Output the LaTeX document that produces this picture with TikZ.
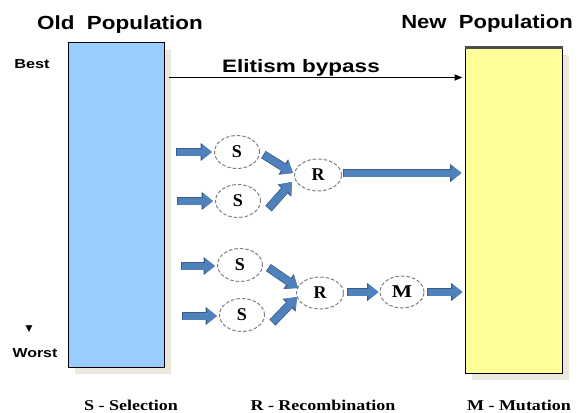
\documentclass[tikz,border=0pt]{standalone}
\usepackage{fontspec}
\setmainfont{Liberation Serif}
\newfontfamily\arialf{Liberation Sans}
\newfontfamily\dejavuf{DejaVu Sans}
\usetikzlibrary{arrows.meta,calc,shadows,shapes.geometric}
\definecolor{oldfill}{HTML}{99CCFF}
\definecolor{newfill}{HTML}{FFFF99}
\definecolor{shadowc}{HTML}{EAE8DC}
\definecolor{blkfill}{HTML}{4F81BD}
\definecolor{blkline}{HTML}{385D8A}
\definecolor{dashc}{HTML}{7F7F7F}
\begin{document}
\begin{tikzpicture}[x=1pt,y=-1pt,
  pop/.style={draw=black, line width=1pt, inner sep=0,
    drop shadow={shadow xshift=7pt, shadow yshift=-7pt, fill=shadowc, opacity=1}},
  op/.style={ellipse, draw=dashc, dash pattern=on 3.5pt off 2pt, line width=1pt,
    minimum width=45, minimum height=33, inner sep=0,
    font=\bfseries\fontsize{18}{18}\selectfont},
  blk/.style={line width=7pt, draw=blkfill, -{Triangle[length=10pt,width=15pt]},
    preaction={draw=blkline, line width=8.6pt, shorten <=-0.8pt,
      -{Triangle[length=11.5pt,width=17.5pt]}}},
  elit/.style={draw=black, line width=1.6pt, -{Triangle[length=8pt,width=6pt]}},
  hd/.style={anchor=base, inner sep=0, font=\arialf\bfseries\fontsize{19}{19}\selectfont},
  side/.style={anchor=base, inner sep=0, font=\arialf\bfseries\fontsize{13}{13}\selectfont},
  legend/.style={anchor=base, inner sep=0, font=\bfseries\fontsize{15}{15}\selectfont}
]
\useasboundingbox (0,0) rectangle (583,412);

% populations
\node[pop, fill=oldfill, minimum width=96, minimum height=324] (old) at (116,205) {};
\node[pop, fill=newfill, minimum width=97, minimum height=325] (new) at (513.5,210.5) {};
\draw[line width=2.5pt, draw=black!70] (new.north west) -- (new.north east);

% headings
\node[hd] (oldlbl) at (120,30) {\scalebox{1.18}[1]{Old\ \ Population}};
\node[hd] (newlbl) at (487,29) {\scalebox{1.16}[1]{New\ \ Population}};
\node[side] (best) at (32,68) {\scalebox{1.25}[1]{Best}};
\node[inner sep=0, font=\dejavuf\fontsize{9}{9}\selectfont] (tri) at (29,329) {▼};
\node[side] (worst) at (35,357) {\scalebox{1.22}[1]{Worst}};

% elitism bypass
\node[anchor=base, inner sep=0, font=\arialf\bfseries\fontsize{18}{18}\selectfont] (elitlbl) at (301,73) {\scalebox{1.25}[1]{Elitism bypass}};
\draw[elit] ($(old.north east)+(4,35)$) -- ($(new.north west)+(-2,30)$);

% operators
\node[op] (s1) at (237,152) {S};
\node[op] (s2) at (238,201) {S};
\node[op, minimum width=47, minimum height=32] (r1) at (318,175) {R};
\node[op] (s3) at (240,265) {S};
\node[op] (s4) at (242,315) {S};
\node[op, minimum width=47, minimum height=32] (r2) at (320,293) {R};
\node[op, minimum width=44, minimum height=32] (m) at (402,292) {\scalebox{1.2}[1]{M}};

% free ends
\coordinate (in1) at (177,152);
\coordinate (in2) at (178,201);
\coordinate (in3) at (182,266);
\coordinate (in4) at (183,316);

% blue arrows
\draw[blk] (in1) -- ($(s1.west)+(-2,0)$);
\draw[blk] (in2) -- ($(s2.west)+(-2,0)$);
\draw[blk] ($(s1.east)+(4,3)$) -- ($(r1.west)+(-1,-2)$);
\draw[blk] ($(s2.east)+(8,7)$) -- ($(r1.west)+(-2,7)$);
\draw[blk] ($(r1.east)+(2,-2)$) -- ($(r1.east -| new.west)+(-3,-2)$);

\draw[blk] (in3) -- ($(s3.west)+(-2,1)$);
\draw[blk] (in4) -- ($(s4.west)+(-2,1)$);
\draw[blk] ($(s3.east)+(6,3)$) -- ($(r2.west)+(2,-5)$);
\draw[blk] ($(s4.east)+(8,7)$) -- ($(r2.west)+(1,4)$);
\draw[blk] ($(r2.east)+(4,-1)$) -- ($(m.west)+(-1,0)$);
\draw[blk] ($(m.east)+(3,0)$) -- ($(m.east -| new.west)+(-2,0)$);

% legend
\node[legend] (lgs) at (131,410) {\scalebox{1.2}[1]{S - Selection}};
\node[legend] (lgr) at (323,410) {\scalebox{1.2}[1]{R - Recombination}};
\node[legend] (lgm) at (519,410) {\scalebox{1.2}[1]{M - Mutation}};
\end{tikzpicture}
\end{document}
